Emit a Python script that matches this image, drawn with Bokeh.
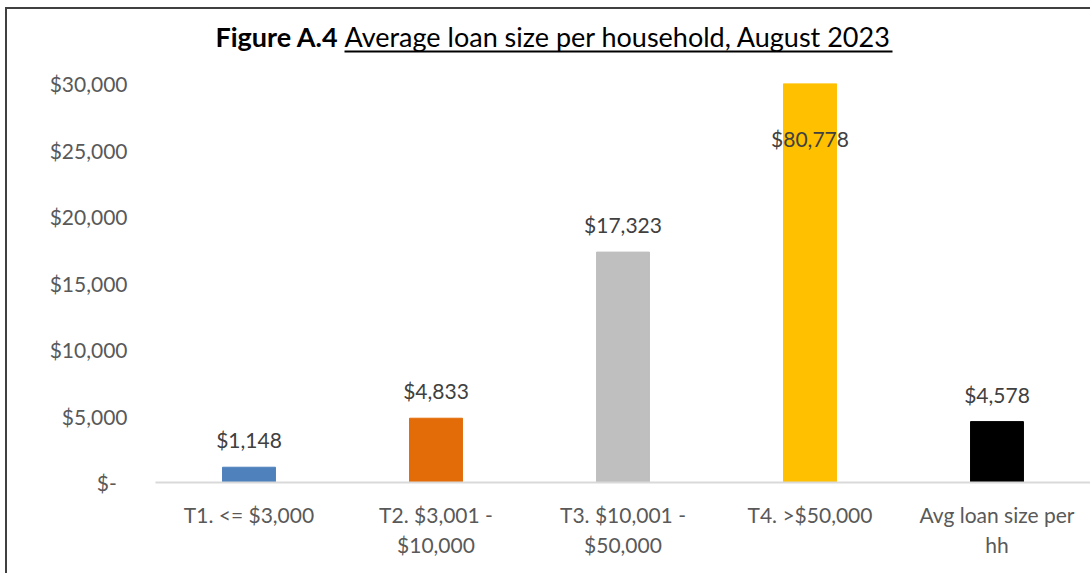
from bokeh.plotting import figure
from bokeh.layouts import column
from bokeh.models import ColumnDataSource, NumeralTickFormatter, FactorRange, Range1d, FixedTicker
from bokeh.embed import file_html
from bokeh.resources import INLINE
from bokeh.core.properties import value

categories = ["T1. <= $3,000", "T2. $3,001 -\n$10,000", "T3. $10,001 -\n$50,000",
              "T4. >$50,000", "Avg loan size per\nhh"]
values = [1148, 4833, 17323, 80778, 4578]
colors = ["#4F81BD", "#E36C09", "#BFBFBF", "#FFC000", "#000000"]
y_ticks = [0, 5000, 10000, 15000, 20000, 25000, 30000]
y_max = 30000
title_bold = "Figure A.4"
title_rest = "Average loan size per household, August 2023"

FONT = "Lato"
GRAY = "#595959"
W = 1083
TITLE_H = 60
LEFT = 148

labels = ["${:,}".format(v) for v in values]
label_y = [min(v, y_max) for v in values]
label_off = [-15 if v <= y_max else 67 for v in values]

src = ColumnDataSource(dict(cat=categories, val=values, color=colors,
                            lab=labels, ly=label_y, off=label_off))

# ---- title strip (rich title: bold part + underlined part) ----
# its frame is aligned with the chart's frame by the column layout; x is in page pixels
tf = figure(width=W, height=TITLE_H, x_range=Range1d(155, 1090), y_range=Range1d(0, TITLE_H),
            output_backend="svg", toolbar_location=None,
            min_border_left=LEFT, min_border_right=0, min_border_top=0, min_border_bottom=0)
tf.axis.visible = False
tf.grid.visible = False
tf.outline_line_color = None
tf.background_fill_color = "white"
tf.border_fill_color = "white"
tf.text(x=[215], y=[33], text=[title_bold], text_align="left", text_baseline="middle",
        text_font=value(FONT), text_font_size="27px", text_font_style="bold", text_color="black")
tf.text(x=[344], y=[33], text=[title_rest], text_align="left", text_baseline="middle",
        text_font=value(FONT), text_font_size="27px", text_color="black")
tf.segment(x0=[344], y0=[18], x1=[892], y1=[18], line_color="black", line_width=2)

# ---- main chart ----
p = figure(x_range=FactorRange(factors=categories, range_padding=0),
           y_range=Range1d(0, y_max),
           width=W, height=504, output_backend="svg", toolbar_location=None,
           min_border_left=LEFT, min_border_right=0, min_border_top=14, min_border_bottom=91)
p.outline_line_color = None
p.background_fill_color = "white"
p.border_fill_color = "white"
p.xgrid.grid_line_color = None
p.ygrid.grid_line_color = None

p.vbar(x="cat", top="val", width=0.283, color="color", source=src)
p.text(x="cat", y="ly", text="lab", y_offset="off", source=src,
       text_align="center", text_baseline="bottom",
       text_font=value(FONT), text_font_size="21px", text_color="#404040")

p.yaxis.ticker = FixedTicker(ticks=y_ticks)
p.yaxis.formatter = NumeralTickFormatter(format="$0,0")
p.yaxis.major_label_overrides = {0: "$-\u00a0\u00a0"}
p.yaxis.axis_line_color = None
p.yaxis.major_tick_line_color = None
p.yaxis.minor_tick_line_color = None
p.yaxis.major_label_standoff = 22
p.yaxis.major_label_text_font = FONT
p.yaxis.major_label_text_font_size = "21px"
p.yaxis.major_label_text_color = GRAY

p.xaxis.axis_line_color = "#D9D9D9"
p.xaxis.axis_line_width = 2
p.xaxis.major_tick_line_color = None
p.xaxis.minor_tick_line_color = None
p.xaxis.major_label_standoff = 13
p.xaxis.major_label_text_font = FONT
p.xaxis.major_label_text_font_size = "21px"
p.xaxis.major_label_text_color = GRAY

layout = column(tf, p, spacing=0,
                styles={"border-left": "2px solid #404040", "border-top": "2px solid #404040",
                        "margin-left": "5px", "margin-top": "7px"})

open("out.html", "w").write(file_html(layout, INLINE))
